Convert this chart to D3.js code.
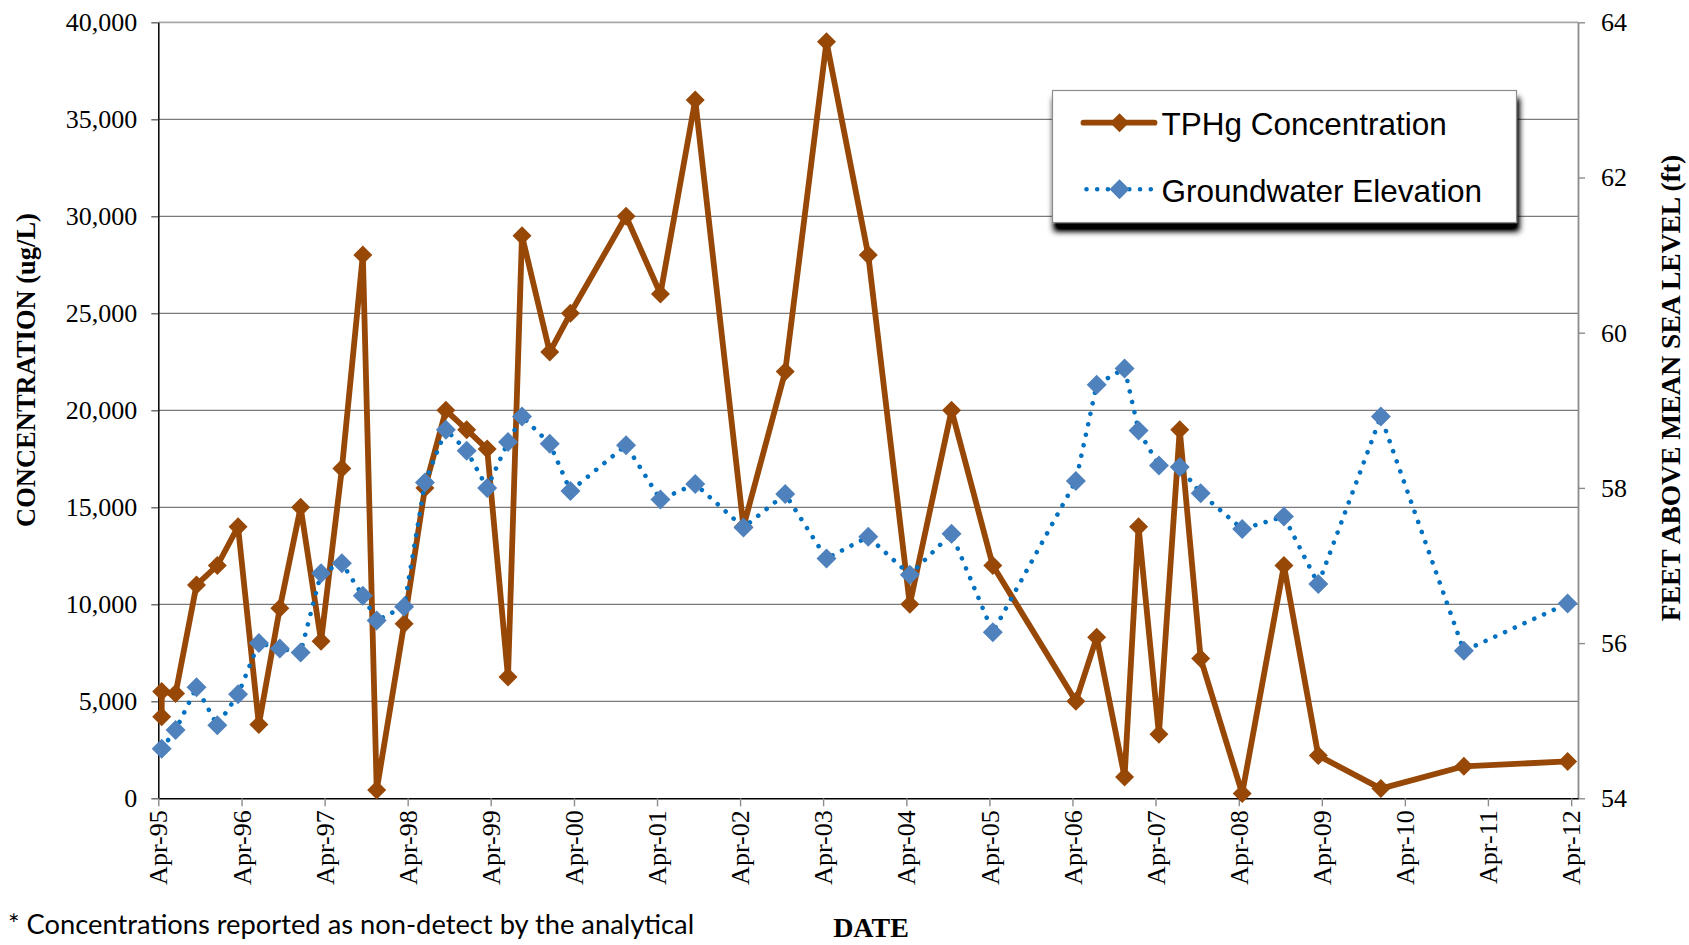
<!DOCTYPE html>
<html>
<head>
<meta charset="utf-8">
<script src="https://cdn.jsdelivr.net/npm/d3@7"></script>
<style>
  html, body { margin: 0; padding: 0; background: #ffffff; }
  svg { display: block; }
</style>
</head>
<body>
<svg id="chart" width="1689" height="945"></svg>
<script>
// Sampling events (month of sampling)
const sampleMonths = [
  "1995-04","1995-04","1995-06","1995-09","1995-12",
  "1996-03","1996-06","1996-09","1996-12",
  "1997-03","1997-06","1997-09","1997-11",
  "1998-03","1998-06","1998-09","1998-12",
  "1999-03","1999-06","1999-08","1999-12",
  "2000-03","2000-11","2001-04","2001-09",
  "2002-04","2002-10","2003-04","2003-10",
  "2004-04","2004-10","2005-04",
  "2006-04","2006-07","2006-11",
  "2007-01","2007-04","2007-07","2007-10",
  "2008-04","2008-10","2009-03","2009-12",
  "2010-12","2012-03"
];

// TPHg concentration (ug/L)
const tphgValues = [
  4200, 5500, 5400, 11000, 12000,
  14000, 3800, 9800, 15000,
  8100, 17000, 28000, 430,
  9000, 16000, 20000, 19000,
  18000, 6250, 29000, 23000,
  25000, 30000, 26000, 36000,
  14000, 22000, 39000, 28000,
  10000, 20000, 12000,
  5000, 8300, 1100,
  14000, 3300, 19000, 7200,
  250, 12000, 2200, 500,
  1650, 1900
];

// Groundwater elevation (ft above mean sea level)
const gwElevations = [
  null, 54.64, 54.88, 55.43, 54.94,
  55.34, 56.00, 55.93, 55.88,
  56.90, 57.03, 56.61, 56.29,
  56.47, 58.07, 58.75, 58.48,
  58.00, 58.59, 58.92, 58.57,
  57.96, 58.55, 57.85, 58.05,
  57.49, 57.92, 57.09, 57.37,
  56.88, 57.41, 56.14,
  58.09, 59.33, 59.54,
  58.74, 58.29, 58.27, 57.93,
  57.47, 57.63, 56.76, 58.92,
  55.90, 56.51
];

// Axis ticks
const concTicks = [0, 5000, 10000, 15000, 20000, 25000, 30000, 35000, 40000];
const elevTicks = [54, 56, 58, 60, 62, 64];
const dateTickLabels = [
  "Apr-95","Apr-96","Apr-97","Apr-98","Apr-99","Apr-00","Apr-01","Apr-02","Apr-03",
  "Apr-04","Apr-05","Apr-06","Apr-07","Apr-08","Apr-09","Apr-10","Apr-11","Apr-12"
];

const seriesNames = ["TPHg Concentration", "Groundwater Elevation"];
const footnote = "* Concentrations reported as non-detect by the analytical";

// ---- layout ----
const plot = { left: 158.3, right: 1578, top: 22.3, bottom: 798.3 };
const brown = "#974706";
const blueMarker = "#4F81BD";
const blueLine = "#0070C0";
const gridColor = "#7a7a7a";
const serif = "'Liberation Serif', 'Times New Roman', serif";

const svg = d3.select("#chart");
svg.append("rect").attr("width", 1689).attr("height", 945).attr("fill", "#fff");

const parseMonth = d3.timeParse("%Y-%m");
const parseTick = d3.timeParse("%b-%y");
const fmtTick = d3.timeFormat("%b-%y");

const x = d3.scaleTime()
  .domain([new Date(1995, 3, 1), new Date(2012, 4, 1)])
  .range([plot.left, plot.right]);
const yL = d3.scaleLinear().domain([0, 40000]).range([plot.bottom, plot.top]);
const yR = d3.scaleLinear().domain([54, 64]).range([plot.bottom, plot.top]);

// points sit in the middle of their month
const xMid = d => (x(d) + x(d3.timeMonth.offset(d, 1))) / 2;

const rows = sampleMonths.map((m, i) => ({
  date: parseMonth(m),
  tphg: tphgValues[i],
  gw: gwElevations[i]
}));

// ---- gridlines ----
const grid = svg.append("g");
grid.selectAll("line")
  .data(concTicks.filter(v => v > 0))
  .join("line")
  .attr("x1", plot.left).attr("x2", plot.right)
  .attr("y1", d => yL(d)).attr("y2", d => yL(d))
  .attr("stroke", d => d === 40000 ? "#a8a8a8" : gridColor)
  .attr("stroke-width", d => d === 40000 ? 1.8 : 1.3);

// ---- axes ----
const leftAxis = svg.append("g")
  .attr("transform", `translate(${plot.left},0)`)
  .call(d3.axisLeft(yL).tickValues(concTicks).tickFormat(d3.format(","))
    .tickSize(7).tickPadding(14).tickSizeOuter(0));
leftAxis.select(".domain").attr("stroke", "#000").attr("stroke-width", 1.5);
leftAxis.selectAll(".tick line").attr("stroke", "#595959").attr("stroke-width", 1.3);
leftAxis.selectAll("text").attr("font-family", serif).attr("font-size", 26).attr("fill", "#000");

const rightAxis = svg.append("g")
  .attr("transform", `translate(${plot.right},0)`)
  .call(d3.axisRight(yR).tickValues(elevTicks)
    .tickSize(7).tickPadding(16).tickSizeOuter(0));
rightAxis.select(".domain").attr("stroke", "#8c8c8c").attr("stroke-width", 1.8);
rightAxis.selectAll(".tick line").attr("stroke", "#8c8c8c").attr("stroke-width", 1.4);
rightAxis.selectAll("text").attr("font-family", serif).attr("font-size", 26).attr("fill", "#000");

const bottomAxis = svg.append("g")
  .attr("transform", `translate(0,${plot.bottom})`)
  .call(d3.axisBottom(x).tickValues(dateTickLabels.map(parseTick))
    .tickFormat(fmtTick).tickSize(8).tickSizeOuter(0));
bottomAxis.select(".domain").attr("stroke", "#000").attr("stroke-width", 1.5);
bottomAxis.selectAll(".tick line").attr("stroke", "#8c8c8c").attr("stroke-width", 1.4);
bottomAxis.selectAll("text")
  .attr("font-family", serif).attr("font-size", 26).attr("fill", "#000")
  .attr("transform", "rotate(-90)")
  .attr("x", -12).attr("y", 0).attr("dy", "0.33em")
  .attr("text-anchor", "end");

// ---- series ----
const diamond = s => `M0,${-s}L${s},0L0,${s}L${-s},0Z`;

const tphgLine = d3.line().x(d => xMid(d.date)).y(d => yL(d.tphg));
svg.append("path")
  .datum(rows)
  .attr("d", tphgLine)
  .attr("fill", "none").attr("stroke", brown)
  .attr("stroke-width", 5.8).attr("stroke-linejoin", "round").attr("stroke-linecap", "round");
svg.append("g").selectAll("path")
  .data(rows)
  .join("path")
  .attr("transform", d => `translate(${xMid(d.date)},${yL(d.tphg)})`)
  .attr("d", diamond(9.5))
  .attr("fill", brown);

const gwRows = rows.filter(d => d.gw != null);
const gwLine = d3.line().x(d => xMid(d.date)).y(d => yR(d.gw));
svg.append("path")
  .datum(gwRows)
  .attr("d", gwLine)
  .attr("fill", "none").attr("stroke", blueLine)
  .attr("stroke-width", 4.6).attr("stroke-linecap", "round")
  .attr("stroke-dasharray", "0.01 10.7");
svg.append("g").selectAll("path")
  .data(gwRows)
  .join("path")
  .attr("transform", d => `translate(${xMid(d.date)},${yR(d.gw)})`)
  .attr("d", diamond(10))
  .attr("fill", blueMarker);

// ---- axis titles ----
svg.append("text")
  .attr("transform", "translate(26,370) rotate(-90)")
  .attr("text-anchor", "middle").attr("dominant-baseline", "central")
  .attr("font-family", serif).attr("font-weight", "bold").attr("font-size", 26.5)
  .text("CONCENTRATION (ug/L)");

svg.append("text")
  .attr("transform", "translate(1670,388) rotate(-90)")
  .attr("text-anchor", "middle").attr("dominant-baseline", "central")
  .attr("font-family", serif).attr("font-weight", "bold").attr("font-size", 27.5)
  .text("FEET ABOVE MEAN SEA LEVEL (ft)");

svg.append("text")
  .attr("x", 871).attr("y", 937)
  .attr("text-anchor", "middle")
  .attr("font-family", serif).attr("font-weight", "bold").attr("font-size", 28)
  .text("DATE");

svg.append("text")
  .attr("x", 8).attr("y", 934)
  .attr("font-family", "Lato, 'Open Sans', sans-serif").attr("font-size", 27.3)
  .attr("fill", "#000")
  .text(footnote);

// ---- legend ----
const defs = svg.append("defs");
const shadow = defs.append("filter").attr("id", "legendShadow")
  .attr("x", "-10%").attr("y", "-20%").attr("width", "125%").attr("height", "160%");
shadow.append("feOffset").attr("in", "SourceAlpha").attr("dx", 2).attr("dy", 8).attr("result", "off");
shadow.append("feGaussianBlur").attr("in", "off").attr("stdDeviation", 3).attr("result", "blur");
shadow.append("feComponentTransfer").attr("in", "blur").attr("result", "shade")
  .append("feFuncA").attr("type", "linear").attr("slope", 1.3);
const merge = shadow.append("feMerge");
merge.append("feMergeNode").attr("in", "shade");
merge.append("feMergeNode").attr("in", "SourceGraphic");

const legend = svg.append("g").attr("transform", "translate(1052.5,90.5)");
legend.append("rect")
  .attr("width", 464).attr("height", 132)
  .attr("fill", "#fff").attr("stroke", "#8c8c8c").attr("stroke-width", 1.2)
  .attr("filter", "url(#legendShadow)");

const lg1 = legend.append("g").attr("transform", "translate(0,32.2)");
lg1.append("line").attr("x1", 31).attr("x2", 102).attr("y1", 0).attr("y2", 0)
  .attr("stroke", brown).attr("stroke-width", 5.8).attr("stroke-linecap", "round");
lg1.append("path").attr("transform", "translate(67,0)").attr("d", diamond(9.5)).attr("fill", brown);
lg1.append("text").attr("x", 109).attr("y", 12.5)
  .attr("font-family", "'Liberation Sans', Arial, sans-serif").attr("font-size", 31.5)
  .text(seriesNames[0]);

const lg2 = legend.append("g").attr("transform", "translate(0,98.8)");
lg2.append("line").attr("x1", 34).attr("x2", 99).attr("y1", 0).attr("y2", 0)
  .attr("stroke", blueLine).attr("stroke-width", 4.6).attr("stroke-linecap", "round")
  .attr("stroke-dasharray", "0.01 10.7");
lg2.append("path").attr("transform", "translate(67,0)").attr("d", diamond(10)).attr("fill", blueMarker);
lg2.append("text").attr("x", 109).attr("y", 12.5)
  .attr("font-family", "'Liberation Sans', Arial, sans-serif").attr("font-size", 31.5)
  .text(seriesNames[1]);
</script>
</body>
</html>
